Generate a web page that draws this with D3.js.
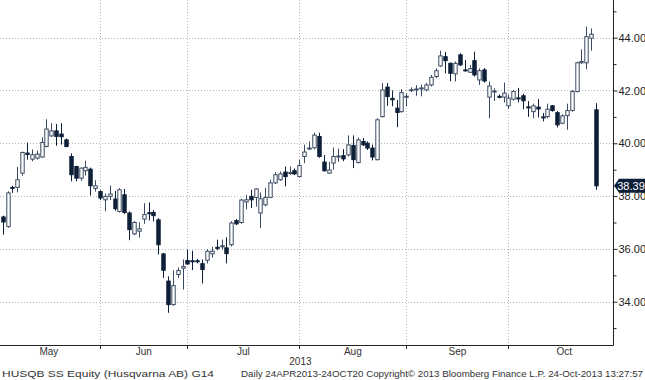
<!DOCTYPE html>
<html><head><meta charset="utf-8">
<script src="https://cdn.jsdelivr.net/npm/d3@7"></script>
<style>
html,body{margin:0;padding:0;background:#fff;}
svg{display:block;}
text{font-family:"Liberation Sans",Arial,sans-serif;}
</style>
</head><body>
<svg id="chart" width="645" height="380"></svg>
<script>
// ---- data ----
const dates = [
"2013-05-02","2013-05-03","2013-05-06","2013-05-07","2013-05-08","2013-05-10","2013-05-13","2013-05-14","2013-05-15","2013-05-16","2013-05-17","2013-05-20","2013-05-21","2013-05-22","2013-05-23","2013-05-24","2013-05-27","2013-05-28","2013-05-29","2013-05-30","2013-05-31",
"2013-06-03","2013-06-04","2013-06-05","2013-06-07","2013-06-10","2013-06-11","2013-06-12","2013-06-13","2013-06-14","2013-06-17","2013-06-18","2013-06-19","2013-06-20","2013-06-24","2013-06-25","2013-06-26","2013-06-27","2013-06-28",
"2013-07-01","2013-07-02","2013-07-03","2013-07-04","2013-07-05","2013-07-08","2013-07-09","2013-07-10","2013-07-11","2013-07-12","2013-07-15","2013-07-16","2013-07-17","2013-07-18","2013-07-19","2013-07-22","2013-07-23","2013-07-24","2013-07-25","2013-07-26","2013-07-29","2013-07-30","2013-07-31",
"2013-08-01","2013-08-02","2013-08-05","2013-08-06","2013-08-07","2013-08-08","2013-08-09","2013-08-12","2013-08-13","2013-08-14","2013-08-15","2013-08-16","2013-08-19","2013-08-20","2013-08-21","2013-08-22","2013-08-23","2013-08-26","2013-08-27","2013-08-28","2013-08-29","2013-08-30",
"2013-09-02","2013-09-03","2013-09-04","2013-09-05","2013-09-06","2013-09-09","2013-09-10","2013-09-11","2013-09-12","2013-09-13","2013-09-16","2013-09-17","2013-09-18","2013-09-19","2013-09-20","2013-09-23","2013-09-24","2013-09-25","2013-09-26","2013-09-27","2013-09-30",
"2013-10-01","2013-10-02","2013-10-03","2013-10-04","2013-10-07","2013-10-08","2013-10-09","2013-10-10","2013-10-11","2013-10-14","2013-10-15","2013-10-16","2013-10-17","2013-10-18","2013-10-21","2013-10-22","2013-10-23","2013-10-24"
];
const open = [
37.21,36.85,38.33,38.33,38.87,39.63,39.40,39.44,39.48,39.88,40.28,40.47,40.35,40.13,39.50,39.12,38.68,38.96,39.02,38.29,38.17,
37.86,37.99,37.89,37.42,38.05,37.36,36.57,36.67,37.13,37.37,37.38,37.10,35.81,34.78,33.89,35.03,35.27,35.56,
35.55,35.55,35.44,35.57,35.81,36.06,36.08,36.04,36.16,37.07,37.00,37.78,37.99,37.95,37.36,37.67,37.95,38.50,38.62,38.91,38.87,38.96,38.74,
39.50,39.80,39.83,40.26,39.29,38.87,39.25,39.48,39.53,39.56,39.92,39.27,40.07,40.00,39.82,39.38,41.01,42.13,41.70,41.33,41.20,41.76,
42.00,42.04,42.07,42.02,42.21,42.53,42.93,43.28,43.03,42.63,43.35,42.78,42.69,43.13,42.40,42.78,41.75,41.95,41.78,41.75,41.42,
41.67,41.72,41.80,41.38,41.20,41.37,41.00,41.01,41.42,41.16,40.76,41.05,41.24,41.96,43.05,43.05,43.98,41.27
];
const high = [
37.26,38.18,38.39,39.10,39.69,40.03,39.77,39.72,40.23,40.91,40.76,40.73,40.76,40.18,39.62,39.15,39.08,39.34,39.08,38.60,38.22,
38.10,38.40,38.20,38.30,38.27,37.42,37.05,37.01,37.73,37.76,37.47,37.16,35.85,34.96,35.19,35.30,35.60,35.97,
35.93,35.62,35.60,35.98,36.08,36.35,36.35,36.44,37.05,37.13,37.90,38.05,38.24,38.30,38.14,38.31,38.62,38.91,38.93,39.12,39.12,39.05,39.38,
39.95,40.07,40.40,40.40,39.55,39.30,39.84,39.80,39.78,40.30,40.30,40.22,40.20,40.07,39.95,40.95,42.28,42.28,42.00,41.64,42.05,41.90,
42.12,42.20,42.22,42.29,42.59,42.84,43.51,43.46,43.06,43.10,43.41,43.16,42.97,43.47,42.84,42.85,42.34,42.08,41.85,42.30,41.85,
42.02,42.10,41.88,41.60,41.50,41.67,41.15,41.50,41.45,41.22,41.10,41.50,42.02,43.09,43.56,44.42,44.35,41.52
];
const low = [
36.54,36.80,38.12,38.14,38.77,39.38,39.32,39.38,39.45,39.85,40.25,39.91,39.95,39.85,38.56,38.56,38.58,38.78,38.02,38.17,37.85,
37.43,37.85,37.45,37.38,37.32,36.33,36.52,36.43,36.95,37.08,37.04,35.79,34.90,33.58,33.85,34.90,34.46,35.40,
35.20,35.45,34.69,35.45,35.67,35.95,35.98,35.45,36.10,36.90,36.95,37.50,37.55,37.60,36.79,37.61,37.93,38.46,38.58,38.37,38.81,38.80,38.71,
39.25,39.75,39.77,39.45,38.93,38.85,39.00,39.30,39.32,39.50,39.06,39.24,39.90,39.75,39.35,39.35,40.98,41.42,41.40,40.61,41.16,41.40,
41.95,41.80,41.78,41.97,42.15,42.47,42.89,42.65,42.35,42.34,42.93,42.72,42.68,42.53,42.21,42.30,40.95,41.60,41.70,41.55,41.30,
41.62,41.55,41.29,41.00,40.95,40.98,40.83,40.95,41.20,40.60,40.72,40.51,41.20,41.93,43.00,42.80,43.51,38.24
];
const close = [
37.02,38.12,38.30,38.62,39.65,39.58,39.57,39.59,40.03,40.54,40.47,40.26,40.25,39.88,38.81,38.68,39.06,39.09,38.39,38.39,37.93,
37.99,38.08,37.52,38.24,37.38,36.73,37.00,36.76,37.30,37.34,37.26,36.16,35.19,33.89,34.61,35.18,35.33,35.43,
35.53,35.53,35.22,35.91,35.91,36.02,36.12,35.82,36.98,36.95,37.85,37.86,37.86,38.27,37.90,37.95,38.50,38.81,38.84,38.74,38.89,38.84,39.16,
39.67,39.82,40.31,39.50,38.96,38.99,39.50,39.52,39.41,39.94,39.38,40.13,39.94,39.82,39.48,40.89,42.02,41.77,41.65,41.17,41.92,41.78,
42.03,42.06,42.10,42.21,42.50,42.75,43.31,43.13,42.65,43.03,42.97,42.75,42.83,42.59,42.75,42.36,42.17,41.98,41.76,41.90,41.71,
41.96,41.70,41.61,41.36,41.42,41.30,40.97,41.29,41.24,40.70,41.04,41.24,41.96,43.05,43.10,44.04,44.13,38.39
];
const yTicks = [34, 36, 38, 40, 42, 44];
const yMinorTicks = [33, 35, 37, 39, 41, 43, 45];
const monthLabels = ["May", "Jun", "Jul", "Aug", "Sep", "Oct"];
const yearLabel = "2013";
const lastPrice = "38.39";
const footerLeft = "HUSQB SS Equity (Husqvarna AB) G14";
const footerRight = "Daily 24APR2013-24OCT20  Copyright\u00A9 2013 Bloomberg Finance L.P.   24-Oct-2013 13:27:57";

// ---- layout ----
const W = 645, H = 380;
const plotRight = 613, plotBottom = 345;
const svg = d3.select("#chart");

const n = dates.length;
const x = d3.scaleLinear().domain([0, n - 1]).range([2.7, 596]);
const y = d3.scaleLinear().domain([34, 44]).range([301.7, 37.7]);

const navy = "#0e2038";
const gridCol = "#b4b4b4";

// month boundaries: index of last trading day in each month
const parse = d3.utcParse("%Y-%m-%d");
const dd = dates.map(parse);
const monthEnds = [];
for (let i = 0; i < n - 1; i++) if (dd[i].getUTCMonth() !== dd[i + 1].getUTCMonth()) monthEnds.push(i);
// virtual end of last month: add weekdays remaining in month
const lastD = dd[n - 1];
const endOfMonth = new Date(Date.UTC(lastD.getUTCFullYear(), lastD.getUTCMonth() + 1, 0));
const extra = d3.utcDays(d3.utcDay.offset(lastD, 1), d3.utcDay.offset(endOfMonth, 1)).filter(d => d.getUTCDay() % 6 !== 0).length;
const bounds = [-1, ...monthEnds, n - 1 + extra];

// gridlines
const g = svg.append("g");
g.selectAll("line.hg").data(yTicks).join("line")
  .attr("x1", 0).attr("x2", plotRight)
  .attr("y1", d => Math.round(y(d)) + 0.5).attr("y2", d => Math.round(y(d)) + 0.5)
  .attr("stroke", gridCol).attr("stroke-width", 1).attr("stroke-dasharray", "1,2");
g.selectAll("line.vg").data(monthEnds).join("line")
  .attr("x1", d => Math.round(x(d)) + 0.5).attr("x2", d => Math.round(x(d)) + 0.5)
  .attr("y1", 0).attr("y2", plotBottom)
  .attr("stroke", gridCol).attr("stroke-width", 1).attr("stroke-dasharray", "1,2");

// candles
const idx = d3.range(n);
const bw = 3.4;
const c = svg.append("g");
c.selectAll("line.wick").data(idx).join("line")
  .attr("x1", i => Math.round(x(i)) + 0.5).attr("x2", i => Math.round(x(i)) + 0.5)
  .attr("y1", i => y(high[i])).attr("y2", i => y(low[i]))
  .attr("stroke", i => close[i] >= open[i] ? "#3a4a62" : navy).attr("stroke-width", 1);
c.selectAll("rect.body").data(idx).join("rect")
  .attr("x", i => Math.round(x(i)) + 0.5 - bw / 2)
  .attr("width", bw)
  .attr("y", i => y(Math.max(open[i], close[i])))
  .attr("height", i => Math.max(1, Math.abs(y(open[i]) - y(close[i]))))
  .attr("fill", i => close[i] >= open[i] ? "#ffffff" : navy)
  .attr("stroke", i => close[i] >= open[i] ? "#3a4a62" : navy)
  .attr("stroke-width", 1);

// axes lines
svg.append("line").attr("x1", plotRight + 0.5).attr("x2", plotRight + 0.5).attr("y1", 0).attr("y2", plotBottom + 0.5)
  .attr("stroke", "#222").attr("stroke-width", 1);
svg.append("line").attr("x1", 0).attr("x2", plotRight + 0.5).attr("y1", plotBottom + 0.5).attr("y2", plotBottom + 0.5)
  .attr("stroke", "#222").attr("stroke-width", 1);

// right axis
const yAxis = d3.axisRight(y).tickValues(yTicks).tickFormat(d3.format(".2f")).tickSize(4).tickPadding(1);
const ya = svg.append("g").attr("transform", `translate(${plotRight + 0.5},0)`).call(yAxis);
ya.select(".domain").remove();
ya.selectAll("text").attr("font-size", 11).attr("fill", "#222").attr("font-family", "Liberation Sans, Arial, sans-serif");
ya.selectAll("line").attr("stroke", "#222");
const yMinor = d3.axisRight(y).tickValues(yMinorTicks).tickFormat("").tickSize(3);
const ym = svg.append("g").attr("transform", `translate(${plotRight + 0.5},0)`).call(yMinor);
ym.select(".domain").remove();
ym.selectAll("line").attr("stroke", "#222");

// bottom month ticks and labels
svg.selectAll("line.mt").data(monthEnds).join("line")
  .attr("x1", d => Math.round(x(d)) + 0.5).attr("x2", d => Math.round(x(d)) + 0.5)
  .attr("y1", plotBottom).attr("y2", plotBottom + 4)
  .attr("stroke", "#222");
svg.selectAll("text.ml").data(monthLabels).join("text")
  .attr("x", (d, k) => x((bounds[k] + bounds[k + 1]) / 2))
  .attr("y", 355)
  .attr("text-anchor", "middle").attr("font-size", 10).attr("fill", "#333")
  .text(d => d);
svg.append("text").attr("x", x((bounds[2] + bounds[3]) / 2) + 57).attr("y", 365)
  .attr("text-anchor", "middle").attr("font-size", 10).attr("fill", "#333").text(yearLabel);

// footer
svg.append("text").attr("x", 2).attr("y", 377).attr("font-size", 9.5).attr("fill", "#333")
  .attr("textLength", 212).attr("lengthAdjust", "spacingAndGlyphs").text(footerLeft);
svg.append("text").attr("x", 241).attr("y", 377).attr("font-size", 9.5).attr("fill", "#333")
  .attr("textLength", 402).attr("lengthAdjust", "spacingAndGlyphs").text(footerRight);

// last price label
const ly = y(close[n - 1]);
svg.append("path")
  .attr("d", `M${plotRight + 1},${ly} L${plotRight + 6},${ly - 7} L${W},${ly - 7} L${W},${ly + 7} L${plotRight + 6},${ly + 7} Z`)
  .attr("fill", navy);
svg.append("text").attr("x", 631).attr("y", ly + 4).attr("text-anchor", "middle")
  .attr("font-size", 11).attr("fill", "#fff").text(lastPrice);
</script>
</body></html>
